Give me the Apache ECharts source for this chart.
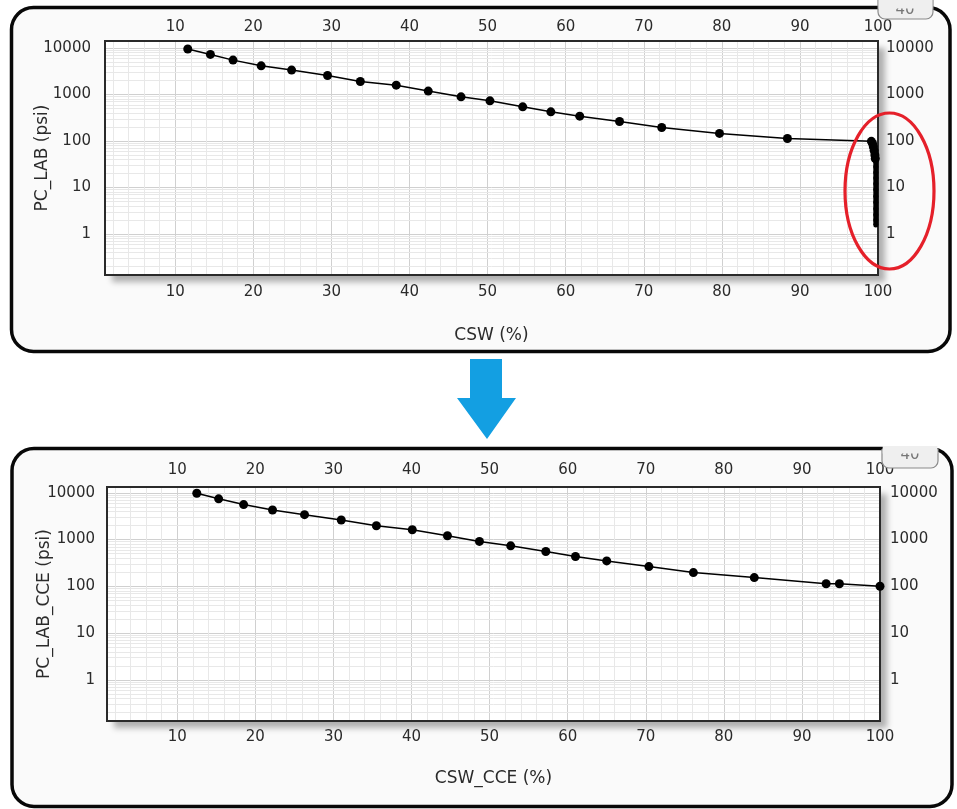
<!DOCTYPE html>
<html><head><meta charset="utf-8">
<script src="https://cdn.jsdelivr.net/npm/echarts@6/dist/echarts.min.js"></script>
<style>html,body{margin:0;padding:0;background:#fff}#c{width:957px;height:809px}</style>
</head><body><div id="c"></div>
<script>
// ---- data ----
const xTicks = [10, 20, 30, 40, 50, 60, 70, 80, 90, 100];
const yTicks = [1, 10, 100, 1000, 10000];
const topTitleX = 'CSW (%)';
const topTitleY = 'PC_LAB (psi)';
const botTitleX = 'CSW_CCE (%)';
const botTitleY = 'PC_LAB_CCE (psi)';
const tabLabel = '40';

// upper chart: CSW vs PC_LAB
const topCSW = [11.6, 14.5, 17.4, 21.0, 24.9, 29.5, 33.7, 38.3, 42.4, 46.6, 50.3, 54.5, 58.1, 61.8, 66.9, 72.3, 79.7, 88.4, 99.15, 99.3, 99.4, 99.5, 99.6, 99.65];
const topPC  = [9500, 7250, 5470, 4120, 3340, 2560, 1900, 1585, 1180, 888, 728, 541, 423, 341, 262, 195, 145, 113, 98, 88, 75, 62, 50, 42];
// upper chart: the steep tail at CSW ~ 100
const tailCSW = [99.65, 99.72, 99.72, 99.72, 99.72, 99.72, 99.72, 99.72, 99.72, 99.72, 99.72, 99.72, 99.72];
const tailPC  = [42, 36, 28, 21, 16, 12, 9, 6.5, 4.8, 3.5, 2.6, 2.0, 1.55];

// lower chart: CSW_CCE vs PC_LAB_CCE
const cceCSW = [12.5, 15.3, 18.5, 22.2, 26.3, 31.0, 35.5, 40.1, 44.6, 48.7, 52.7, 57.2, 61.0, 65.0, 70.4, 76.1, 83.9, 93.1, 94.8, 100];
const ccePC  = [9800, 7430, 5600, 4300, 3410, 2620, 1980, 1625, 1208, 914, 736, 557, 435, 350, 265, 197, 154, 114, 114, 101];

// ---- chart ----
const FONT = 'DejaVu Sans';
const TXT = '#2b2b2b';
const zip = (a, b) => a.map((v, i) => [v, b[i]]);
function xFmt(v) { return xTicks.indexOf(v) >= 0 ? String(v) : ''; }
function yFmt(v) {
  const l = Math.log10(v), r = Math.round(l);
  const p = Math.pow(10, r);
  return (Math.abs(l - r) < 1e-6 && yTicks.indexOf(p) >= 0) ? String(p) : '';
}
const yMinor = [];
for (let n = -1; n <= 4; n++) for (let k = 2; k <= 9; k++) yMinor.push(+(k * Math.pow(10, n)).toPrecision(3));
const xMinor = [];
for (let v = 2; v < 100; v += 2) if (v % 10 !== 0) xMinor.push(v);

const G = [
  {left: 105, top: 41, width: 773, height: 234, yMin: 0.131, yMax: 14100,
   bm: 10, tm: 6, lm: 14, rm: 8, xName: topTitleX, yName: topTitleY, xGap: 52, yGap: 54},
  {left: 107, top: 487, width: 773, height: 234, yMin: 0.133, yMax: 13300,
   bm: 9, tm: 9, lm: 12, rm: 10, xName: botTitleX, yName: botTitleY, xGap: 49, yGap: 54}
];

const grids = [], xAxes = [], yAxes = [];
const tick = {fontFamily: FONT, fontSize: 15, color: TXT};
const nameStyle = {fontFamily: FONT, fontSize: 17, color: TXT};
G.forEach((g, i) => {
  grids.push({left: g.left, top: g.top, width: g.width, height: g.height, show: true,
    backgroundColor: '#fff', borderWidth: 0,
    shadowColor: 'rgba(0,0,0,0.3)', shadowBlur: 6, shadowOffsetX: 7, shadowOffsetY: 7});
  xAxes.push({type: 'value', gridIndex: i, min: 1, max: 100, splitNumber: 10, position: 'bottom',
    axisLine: {show: false}, axisTick: {show: false},
    axisLabel: Object.assign({formatter: xFmt, margin: g.bm, interval: 0}, tick),
    splitLine: {show: true, showMinLine: false, showMaxLine: false, lineStyle: {color: '#d0d0d0', width: 1}},
    name: g.xName, nameLocation: 'middle', nameGap: g.xGap, nameMoveOverlap: false, nameTextStyle: nameStyle});
  xAxes.push({type: 'value', gridIndex: i, min: 1, max: 100, splitNumber: 10, position: 'top',
    axisLine: {show: false}, axisTick: {show: false},
    axisLabel: Object.assign({formatter: xFmt, margin: g.tm, interval: 0}, tick),
    splitLine: {show: false}});
  yAxes.push({type: 'log', logBase: 10, gridIndex: i, min: g.yMin, max: g.yMax, position: 'left',
    axisLine: {show: false}, axisTick: {show: false},
    axisLabel: Object.assign({formatter: yFmt, margin: g.lm, interval: 0}, tick),
    splitLine: {show: true, showMinLine: false, showMaxLine: false, lineStyle: {color: '#d0d0d0', width: 1}},
    name: g.yName, nameLocation: 'middle', nameGap: g.yGap, nameMoveOverlap: false, nameTextStyle: nameStyle});
  yAxes.push({type: 'log', logBase: 10, gridIndex: i, min: g.yMin, max: g.yMax, position: 'right',
    axisLine: {show: false}, axisTick: {show: false},
    axisLabel: Object.assign({formatter: yFmt, margin: g.rm, interval: 0}, tick),
    splitLine: {show: false}});
});

function minorSeries(i, data) {
  return {type: 'line', xAxisIndex: i * 2, yAxisIndex: i * 2, data: data, showSymbol: false, silent: true,
    lineStyle: {opacity: 0}, z: 1, animation: false,
    markLine: {silent: true, z: 1, symbol: ['none', 'none'], label: {show: false}, animation: false,
      lineStyle: {color: '#e8e8e8', width: 1, type: 'solid'}, emphasis: {disabled: true},
      data: yMinor.filter(v => v > G[i].yMin && v < G[i].yMax).map(v => ({yAxis: v}))
        .concat(xMinor.map(v => ({xAxis: v})))}};
}
const dotSeries = (xi, data, size, lw) => ({type: 'line', xAxisIndex: xi, yAxisIndex: xi, data: data,
  symbol: 'circle', symbolSize: size, showAllSymbol: true, clip: false, z: 5, animation: false,
  lineStyle: {color: '#000', width: lw}, itemStyle: {color: '#000'}});

const frames = G.map(g => ({type: 'rect', z: 3, silent: true,
  shape: {x: g.left, y: g.top, width: g.width, height: g.height},
  style: {fill: 'none', stroke: '#2a2a2a', lineWidth: 2}}));

const tabFill = '#efefef';
const option = {
  animation: false,
  backgroundColor: '#ffffff',
  grid: grids, xAxis: xAxes, yAxis: yAxes,
  series: [
    minorSeries(0, zip(topCSW, topPC)),
    minorSeries(1, zip(cceCSW, ccePC)),
    dotSeries(0, zip(topCSW, topPC), 9, 1.5),
    dotSeries(0, zip(tailCSW, tailPC), 5, 5),
    dotSeries(2, zip(cceCSW, ccePC), 9, 1.5)
  ],
  graphic: [
    {type: 'rect', z: -10, shape: {x: 11.5, y: 7.5, width: 938.5, height: 344, r: 22},
      style: {fill: '#fafafa', stroke: '#080808', lineWidth: 3.5}},
    {type: 'rect', z: -10, shape: {x: 12, y: 448.5, width: 940, height: 358, r: 22},
      style: {fill: '#fafafa', stroke: '#080808', lineWidth: 3.5}}
  ].concat(frames).concat([
    // tabs
    {type: 'rect', z: 50, shape: {x: 878, y: -4, width: 55, height: 23, r: [0, 0, 7, 7]},
      style: {fill: tabFill, stroke: '#8a8a8a', lineWidth: 1.2}},
    {type: 'text', z: 51, x: 905, y: 10, style: {text: tabLabel, fill: '#777', font: '15px "DejaVu Sans"', align: 'center', verticalAlign: 'middle'}},
    {type: 'rect', z: 52, shape: {x: 878.7, y: -4, width: 53.6, height: 12.5}, style: {fill: tabFill}},
    {type: 'rect', z: 50, shape: {x: 882, y: 449, width: 56, height: 19, r: [0, 0, 7, 7]},
      style: {fill: tabFill, stroke: '#8a8a8a', lineWidth: 1.2}},
    {type: 'text', z: 51, x: 910, y: 455, style: {text: tabLabel, fill: '#777', font: '15px "DejaVu Sans"', align: 'center', verticalAlign: 'middle'}},
    {type: 'rect', z: 52, shape: {x: 882.7, y: 446, width: 54.6, height: 7.5}, style: {fill: tabFill}},
    // arrow
    {type: 'polygon', z: 100, shape: {points: [[470, 359], [502, 359], [502, 398], [516, 398], [487, 439], [457, 398], [470, 398]]},
      style: {fill: '#139fe2'}},
    // red ellipse
    {type: 'ellipse', z: 100, shape: {cx: 889.5, cy: 191, rx: 44.5, ry: 78},
      style: {fill: 'none', stroke: '#e5202a', lineWidth: 3.2}}
  ])
};
const chart = echarts.init(document.getElementById('c'), null, {renderer: 'canvas'});
chart.setOption(option);
</script>
</body></html>
